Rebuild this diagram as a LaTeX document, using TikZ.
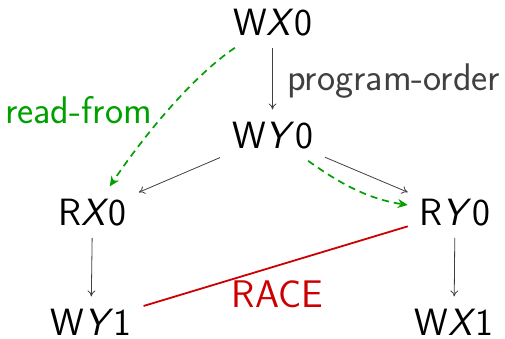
\documentclass[tikz,border=0pt]{standalone}
\usetikzlibrary{arrows.meta}
\definecolor{rfgreen}{RGB}{0,160,0}
\definecolor{racered}{RGB}{204,0,0}
\definecolor{edgegray}{RGB}{64,64,64}
\begin{document}
\begin{tikzpicture}[x=1pt,y=-1pt,
  ev/.style={font=\fontsize{38}{40}\selectfont\sffamily, inner sep=12pt, anchor=base},
  po/.style={draw=edgegray, line width=0.8pt, -{To[length=6pt,width=8pt]}},
  rf/.style={draw=rfgreen, line width=1.7pt, dash pattern=on 7pt off 5pt, -{Stealth[length=10pt,width=9pt]}},
  race/.style={draw=racered, line width=1.8pt},
  lbl/.style={font=\fontsize{38.5}{40}\selectfont\sffamily, inner sep=0pt}]
\useasboundingbox (0,0) rectangle (505,338);
\node[ev] (wx0) at (272.5,35) {W\textsl{X}0};
\node[ev] (wy0) at (272.5,148) {W\textsl{Y}0};
\node[ev] (rx0) at (92.5,225) {R\textsl{X}0};
\node[ev] (ry0) at (455,225) {R\textsl{Y}0};
\node[ev] (wy1) at (91,335) {W\textsl{Y}1};
\node[ev] (wx1) at (454,335) {W\textsl{X}1};
\draw[po] (wx0) -- (wy0);
\draw[po] (wy0) -- (rx0);
\draw[po] (wy0) -- (ry0);
\draw[po] (rx0) -- (wy1);
\draw[po] (ry0) -- (wx1);
\draw[rf] (wx0) .. controls (189,79) and (139.5,142) .. (rx0);
\draw[rf] (wy0) .. controls (339,183) and (368,199) .. (ry0);
\draw[race] (ry0) -- (wy1);
\node[lbl, text=edgegray, anchor=base west] (lpo) at (287,90) {program-order};
\node[lbl, text=rfgreen, anchor=base] (lrf) at (78.5,123) {read-from};
\node[lbl, text=racered, anchor=base] (lrace) at (277.5,307) {RACE};
\end{tikzpicture}
\end{document}
